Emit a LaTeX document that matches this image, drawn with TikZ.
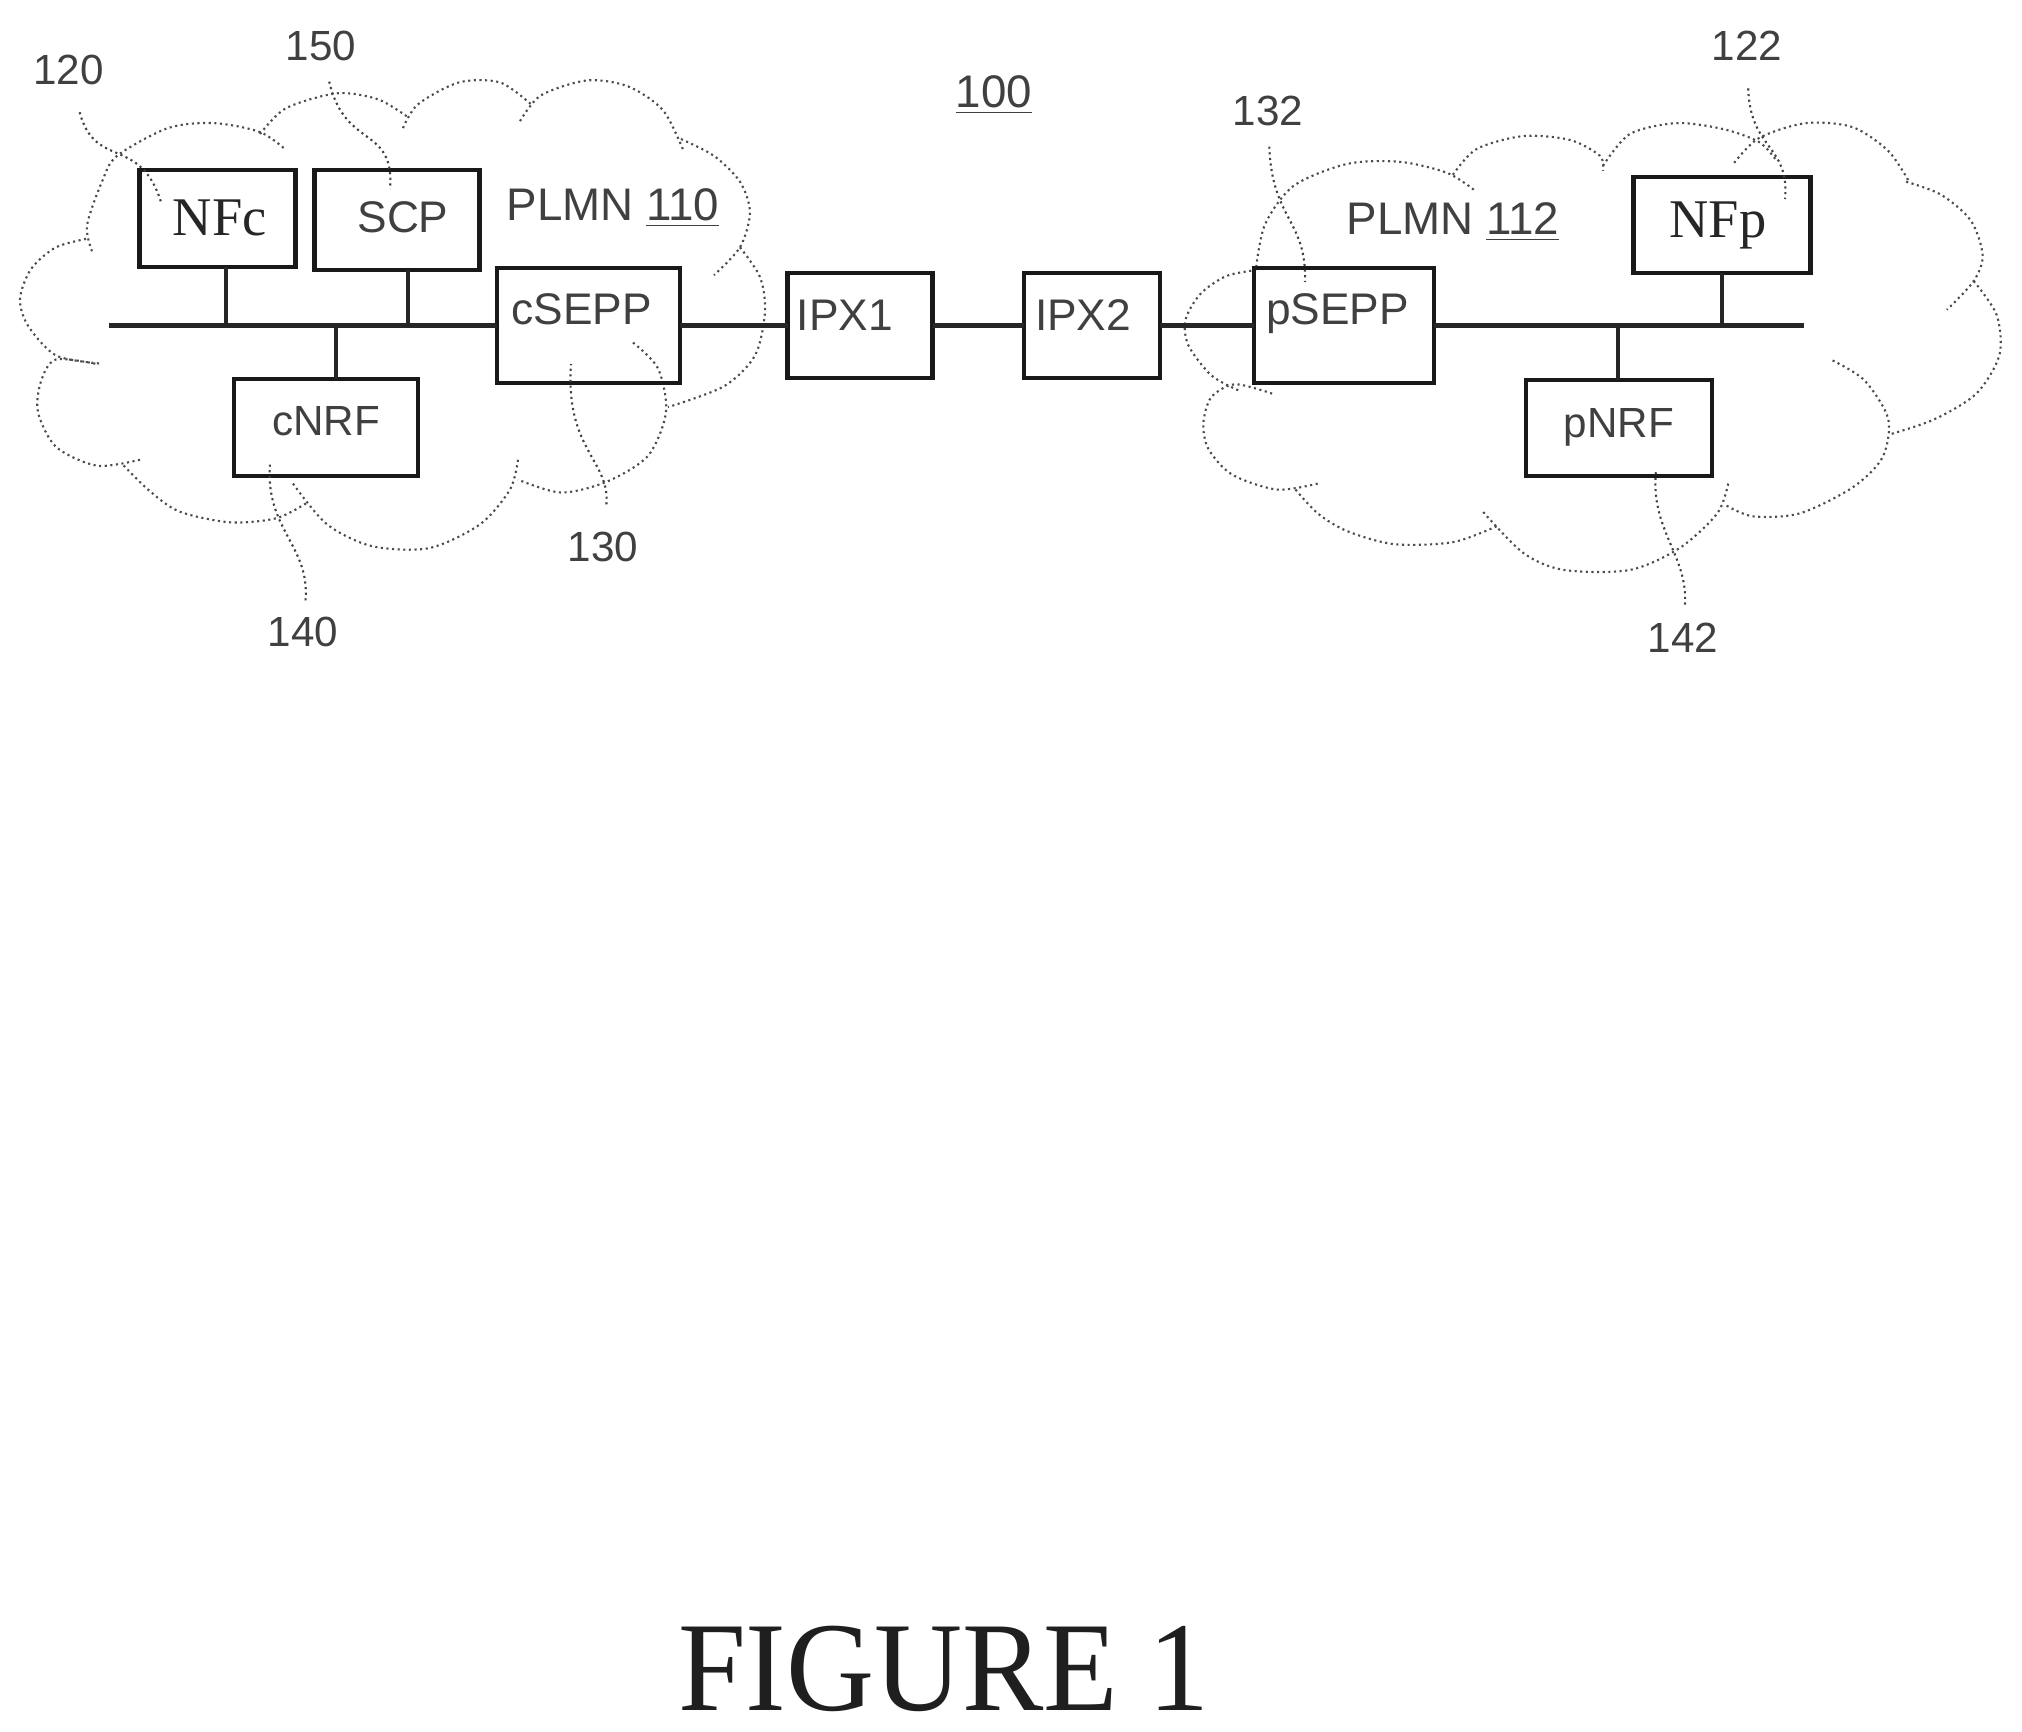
\documentclass[tikz,border=0pt]{standalone}
\usepackage{fontspec}
\setmainfont{Liberation Serif}
\setsansfont{Liberation Sans}
\usepackage{tikz}
\usetikzlibrary{positioning}

\begin{document}
\begin{tikzpicture}[
  box/.style={draw=black!90, line width=1.2pt, outer sep=0pt, inner sep=0pt, font=\sffamily\fontsize{12.6pt}{15pt}\selectfont, text=black!75},
  serifbox/.style={box, font=\rmfamily\fontsize{15.5pt}{17pt}\selectfont, text=black!85},
  nrfbox/.style={box, font=\sffamily\fontsize{12pt}{15pt}\selectfont},
  bus/.style={line width=1.2pt, black!85},
  lobe/.style={line width=0.6pt, black!70, densely dotted},
  leader/.style={line width=0.6pt, black!75, densely dotted},
  numlabel/.style={font=\sffamily\fontsize{12pt}{14pt}\selectfont, text=black!75, inner sep=0.27cm},
  plmn/.style={font=\sffamily\fontsize{13pt}{15pt}\selectfont, text=black!75},
]
\useasboundingbox (0,0) rectangle (20.22,-17.32);

% ─── Left cloud ───
\begin{scope}[yscale=0.993]
\draw[lobe] plot[smooth] coordinates {(0.92,-2.53) (0.87,-2.27) (1.02,-1.83) (1.17,-1.57) (1.68,-1.29) (2.14,-1.24) (2.60,-1.33) (2.86,-1.51)};
\draw[lobe] plot[smooth] coordinates {(2.60,-1.35) (2.86,-1.09) (3.37,-0.94) (3.78,-1.00) (4.08,-1.18)};
\draw[lobe] plot[smooth] coordinates {(4.03,-1.29) (4.18,-1.05) (4.59,-0.83) (5.00,-0.83) (5.31,-1.05)};
\draw[lobe] plot[smooth] coordinates {(5.20,-1.22) (5.41,-0.96) (5.87,-0.81) (6.28,-0.87) (6.63,-1.11) (6.84,-1.53)};
\draw[lobe] plot[smooth] coordinates {(6.81,-1.40) (7.14,-1.57) (7.40,-1.83) (7.50,-2.14) (7.40,-2.49) (7.14,-2.77)};
\draw[lobe] plot[smooth] coordinates {(7.40,-2.49) (7.60,-2.79) (7.65,-3.14) (7.55,-3.58) (7.24,-3.89) (6.68,-4.10)};
\draw[lobe] plot[smooth] coordinates {(6.33,-3.45) (6.58,-3.71) (6.66,-4.15) (6.48,-4.59) (6.07,-4.85) (5.61,-4.96) (5.18,-4.83)};
\draw[lobe] plot[smooth] coordinates {(5.18,-4.63) (5.10,-4.93) (4.80,-5.28) (4.29,-5.52) (3.72,-5.50) (3.27,-5.28) (2.93,-4.87)};
\draw[lobe] plot[smooth] coordinates {(3.06,-5.07) (2.76,-5.22) (2.30,-5.26) (1.79,-5.15) (1.48,-4.93) (1.22,-4.67)};
\draw[lobe] plot[smooth] coordinates {(1.40,-4.63) (0.97,-4.69) (0.56,-4.50) (0.38,-4.15) (0.41,-3.84) (0.56,-3.62) (0.99,-3.67)};
\draw[lobe] plot[smooth] coordinates {(0.99,-3.66) (0.56,-3.58) (0.28,-3.28) (0.20,-3.01) (0.31,-2.71) (0.56,-2.49) (0.89,-2.40)};
\end{scope}

% ─── Right cloud ───
\begin{scope}[yscale=0.993, xshift=0.066cm, xscale=0.994]
\draw[lobe] plot[smooth] coordinates {(14.76,-1.91) (14.49,-1.74) (14.02,-1.63) (13.49,-1.65) (12.95,-1.87) (12.66,-2.26) (12.57,-2.70)};
\draw[lobe] plot[smooth] coordinates {(14.55,-1.76) (14.79,-1.50) (15.26,-1.37) (15.73,-1.41) (16.03,-1.57) (16.06,-1.72)};
\draw[lobe] plot[smooth] coordinates {(16.06,-1.67) (16.33,-1.35) (16.80,-1.24) (17.27,-1.30) (17.63,-1.43) (17.80,-1.61)};
\draw[lobe] plot[smooth] coordinates {(17.38,-1.64) (17.63,-1.39) (18.10,-1.24) (18.57,-1.28) (18.93,-1.52) (19.14,-1.83)};
\draw[lobe] plot[smooth] coordinates {(19.11,-1.83) (19.46,-1.96) (19.76,-2.22) (19.88,-2.57) (19.79,-2.83) (19.52,-3.12)};
\draw[lobe] plot[smooth] coordinates {(19.79,-2.83) (20.02,-3.17) (20.05,-3.57) (19.82,-3.96) (19.40,-4.22) (18.96,-4.37)};
\draw[lobe] plot[smooth] coordinates {(18.37,-3.63) (18.69,-3.83) (18.93,-4.22) (18.87,-4.61) (18.57,-4.91) (18.04,-5.17) (17.57,-5.20) (17.30,-5.09)};
\draw[lobe] plot[smooth] coordinates {(17.32,-4.87) (17.21,-5.17) (16.83,-5.52) (16.33,-5.74) (15.67,-5.74) (15.26,-5.57) (14.85,-5.15)};
\draw[lobe] plot[smooth] coordinates {(14.99,-5.30) (14.55,-5.46) (13.96,-5.48) (13.49,-5.35) (13.19,-5.17) (12.95,-4.91)};
\draw[lobe] plot[smooth] coordinates {(13.19,-4.87) (12.78,-4.93) (12.33,-4.78) (12.09,-4.52) (12.04,-4.26) (12.12,-4.00) (12.36,-3.87) (12.75,-3.97)};
\draw[lobe] plot[smooth] coordinates {(12.39,-3.93) (12.12,-3.78) (11.89,-3.48) (11.86,-3.22) (12.01,-2.96) (12.27,-2.78) (12.57,-2.72)};
\end{scope}

% Boxes
\node[serifbox, minimum width=1.56cm, minimum height=0.965cm] (NFc) at (2.174,-2.184) {\hspace*{0.05cm}NFc};
\node[box, minimum width=1.65cm, minimum height=0.995cm, text depth=0.05cm] (SCP) at (3.97,-2.20) {\hspace*{0.12cm}SCP};
\node[box, minimum width=1.83cm, minimum height=1.15cm, text depth=0.33cm] (cSEPP) at (5.885,-3.255) {cSEPP\hspace*{0.14cm}};
\node[nrfbox, minimum width=1.84cm, minimum height=0.965cm, text depth=0.13cm] (cNRF) at (3.26,-4.275) {cNRF};
\node[box, minimum width=1.45cm, minimum height=1.055cm, text depth=0.2cm] (IPX1) at (8.60,-3.255) {IPX1\hspace*{0.3cm}};
\node[box, minimum width=1.36cm, minimum height=1.055cm, text depth=0.2cm] (IPX2) at (10.92,-3.255) {IPX2\hspace*{0.18cm}};
\node[box, minimum width=1.80cm, minimum height=1.15cm, text depth=0.33cm] (pSEPP) at (13.44,-3.255) {pSEPP\hspace*{0.13cm}};
\node[serifbox, minimum width=1.77cm, minimum height=0.96cm] (NFp) at (17.22,-2.25) {NFp\hspace*{0.08cm}};
\node[nrfbox, minimum width=1.86cm, minimum height=0.965cm, text depth=0.1cm] (pNRF) at (16.19,-4.28) {pNRF};

% Bus and taps
\coordinate (busW) at (1.085,-3.255);
\coordinate (busE) at (18.04,-3.255);
\coordinate (tapNFc) at (2.26,-3.255);
\coordinate (tapSCP) at (4.08,-3.255);
\coordinate (tapcNRF) at (3.36,-3.255);
\coordinate (tappNRF) at (16.18,-3.255);
\coordinate (tapNFp) at (17.22,-3.255);

\draw[bus] (busW) -- (cSEPP);
\draw[bus] (cSEPP) -- (IPX1);
\draw[bus] (IPX1) -- (IPX2);
\draw[bus] (IPX2) -- (pSEPP);
\draw[bus] (pSEPP) -- (busE);
\draw[bus] (tapNFc) -- (tapNFc |- NFc.south);
\draw[bus] (tapSCP) -- (tapSCP |- SCP.south);
\draw[bus] (tapcNRF) -- (tapcNRF |- cNRF.north);
\draw[bus] (tappNRF) -- (tappNRF |- pNRF.north);
\draw[bus] (tapNFp) -- (tapNFp |- NFp.south);

% Reference numerals
\node[numlabel] (l120) at (0.683,-0.696) {120};
\node[numlabel, inner sep=0.2cm] (l150) at (3.21,-0.46) {150};
\node[numlabel, inner sep=0.16cm] (l140) at (3.03,-6.32) {140};
\node[numlabel] (l130) at (6.03,-5.47) {130};
\node[numlabel, inner sep=0.2cm] (l132) at (12.68,-1.11) {132};
\node[numlabel] (l122) at (17.47,-0.46) {122};
\node[numlabel, inner sep=0.18cm] (l142) at (16.83,-6.38) {142};

\coordinate (e120) at (1.61,-2.02);
\coordinate (e150) at (3.90,-1.89);
\coordinate (e140) at (2.70,-4.64);
\coordinate (e130) at (5.71,-3.64);
\coordinate (e132) at (13.05,-2.82);
\coordinate (e122) at (17.85,-1.99);
\coordinate (e142) at (16.56,-4.71);

\draw[leader] (l120) .. controls (0.95,-1.70) and (1.40,-1.35) .. (e120);
\draw[leader] (l150) .. controls (3.45,-1.50) and (3.95,-1.25) .. (e150);
\draw[leader] (l140) .. controls (3.10,-5.45) and (2.65,-5.30) .. (e140);
\draw[leader] (l130) .. controls (6.10,-4.60) and (5.65,-4.50) .. (e130);
\draw[leader] (l132) .. controls (12.72,-2.20) and (13.07,-2.20) .. (e132);
\draw[leader] (l122) .. controls (17.50,-1.50) and (17.90,-1.45) .. (e122);
\draw[leader] (l142) .. controls (16.88,-5.55) and (16.50,-5.30) .. (e142);

% Network labels
\node[plmn] (t100) at (9.94,-0.95) {\underline{100}};
\node[plmn] (t110) at (6.13,-2.08) {PLMN \underline{110}};
\node[plmn] (t112) at (14.53,-2.22) {PLMN \underline{112}};

\node[font=\rmfamily\fontsize{34.7pt}{38pt}\selectfont, text=black!88, yscale=1.045, transform shape] (caption) at (9.44,-16.69) {FIGURE 1};

\end{tikzpicture}
\end{document}
